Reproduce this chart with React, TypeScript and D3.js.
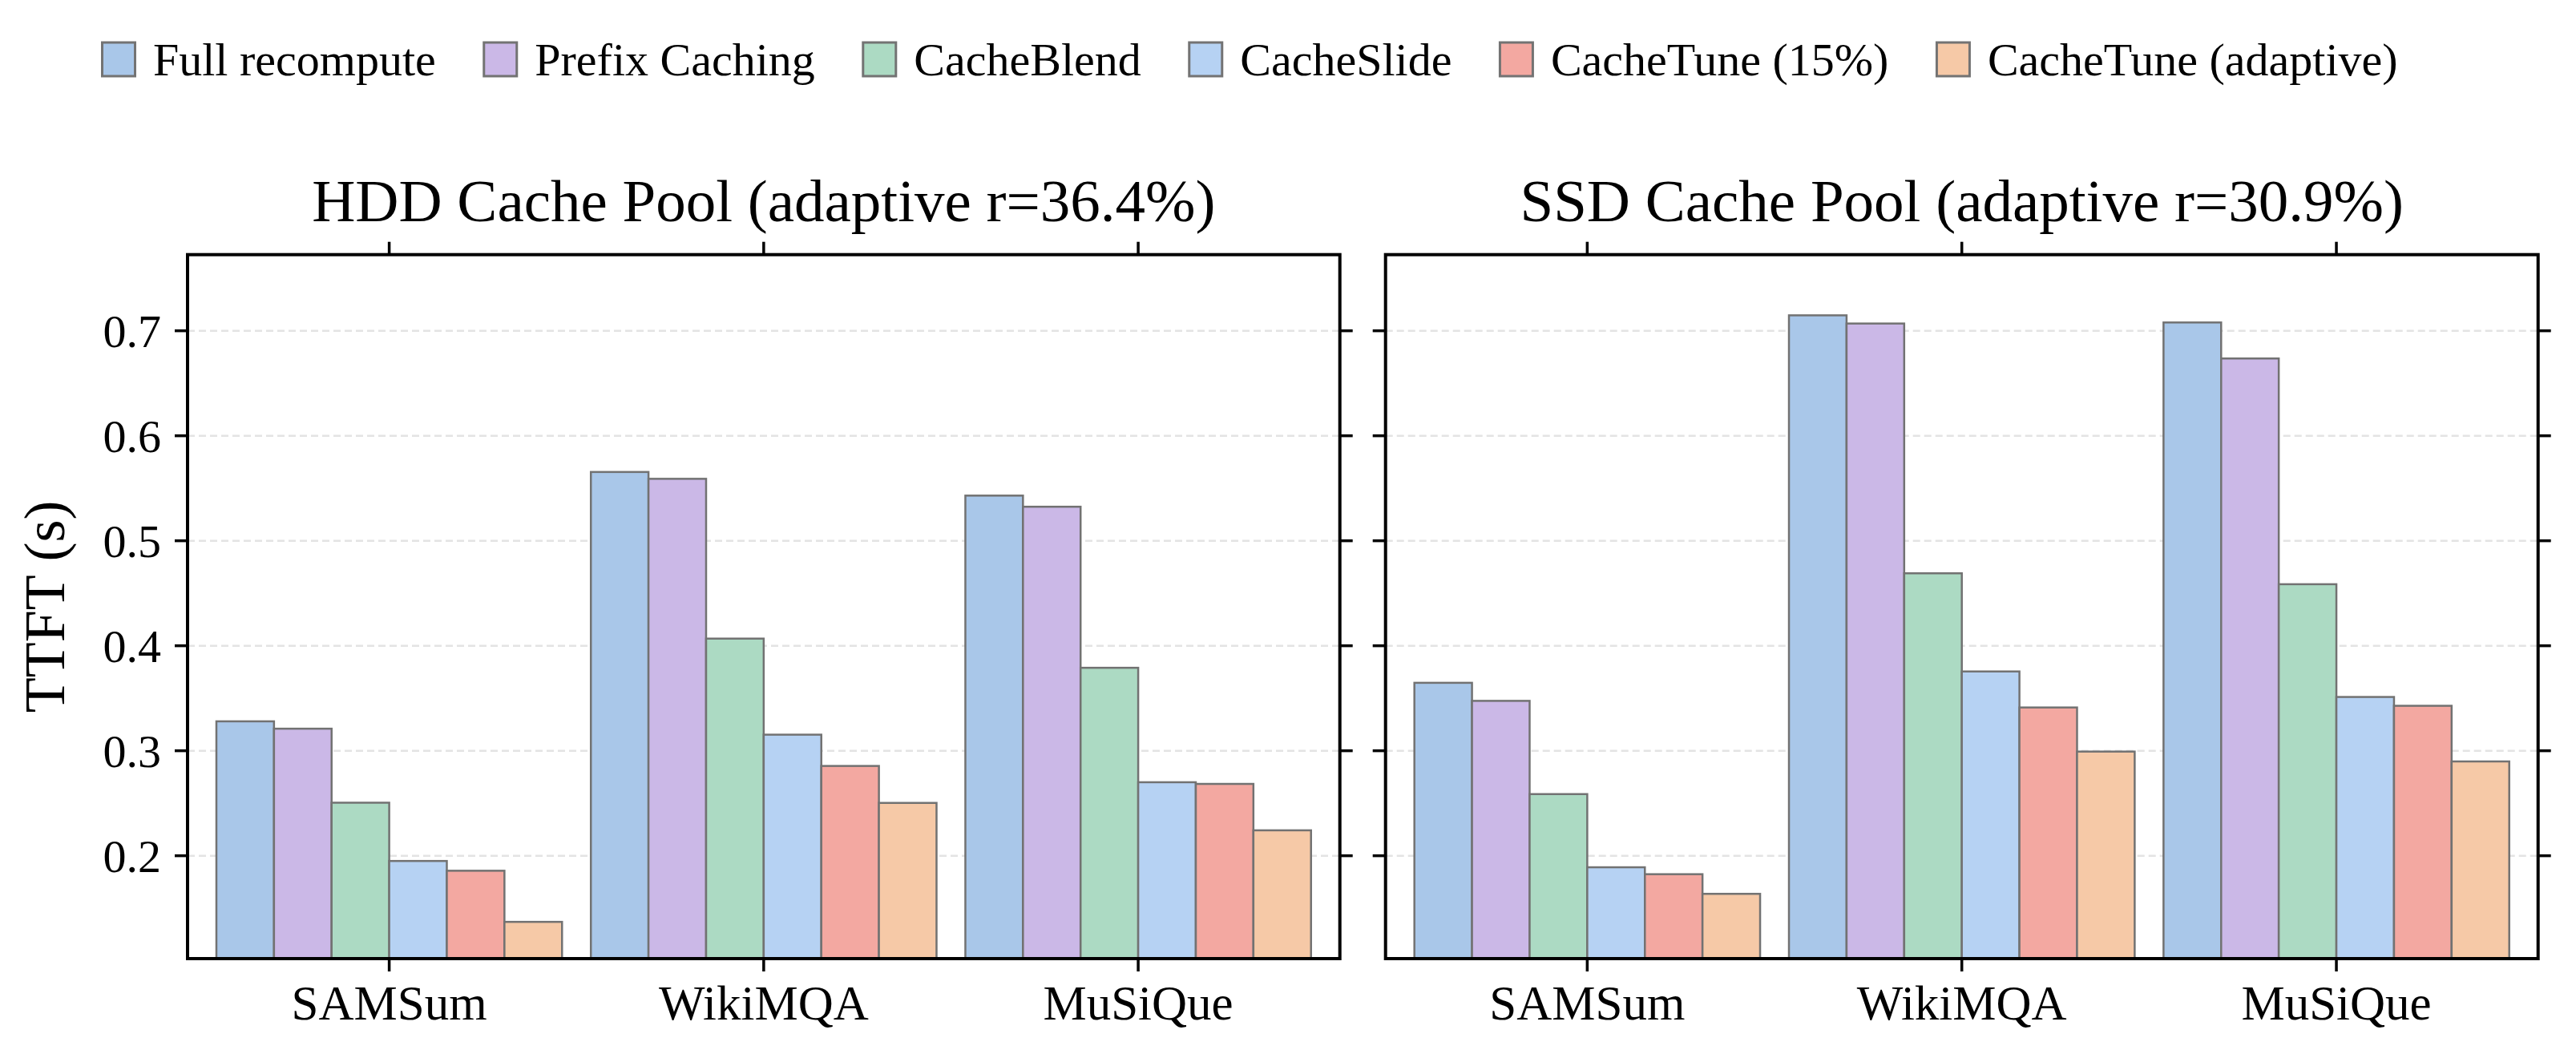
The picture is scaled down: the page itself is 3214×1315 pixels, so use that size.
import { useEffect, useRef } from 'react';
import * as d3 from 'd3';

// Categories and series
const categories = ['SAMSum', 'WikiMQA', 'MuSiQue'];
const methods = [
  'Full recompute',
  'Prefix Caching',
  'CacheBlend',
  'CacheSlide',
  'CacheTune (15%)',
  'CacheTune (adaptive)'
];
const methodColors = ['#a9c7e9', '#cbb8e7', '#acdac3', '#b6d2f3', '#f3a8a1', '#f6c9a7'];

// HDD cache pool TTFT (s), one array per method over categories
const hddFullRecompute = [0.328, 0.5655, 0.543];
const hddPrefixCaching = [0.321, 0.559, 0.5324];
const hddCacheBlend = [0.2505, 0.4068, 0.379];
const hddCacheSlide = [0.195, 0.3153, 0.27];
const hddCacheTune15 = [0.1857, 0.2855, 0.2684];
const hddCacheTuneAdaptive = [0.137, 0.2503, 0.2242];

// SSD cache pool TTFT (s)
const ssdFullRecompute = [0.3647, 0.7147, 0.7079];
const ssdPrefixCaching = [0.3475, 0.7069, 0.6736];
const ssdCacheBlend = [0.2587, 0.469, 0.4586];
const ssdCacheSlide = [0.189, 0.3755, 0.3512];
const ssdCacheTune15 = [0.1824, 0.3412, 0.3428];
const ssdCacheTuneAdaptive = [0.1637, 0.2992, 0.2898];

const yTicks = [0.2, 0.3, 0.4, 0.5, 0.6, 0.7];
const yDomain: [number, number] = [0.102, 0.7725];

const panels = [
  {
    title: 'HDD Cache Pool (adaptive r=36.4%)',
    series: [hddFullRecompute, hddPrefixCaching, hddCacheBlend, hddCacheSlide, hddCacheTune15, hddCacheTuneAdaptive],
    x0: 234,
    x1: 1671.7,
    showYLabels: true
  },
  {
    title: 'SSD Cache Pool (adaptive r=30.9%)',
    series: [ssdFullRecompute, ssdPrefixCaching, ssdCacheBlend, ssdCacheSlide, ssdCacheTune15, ssdCacheTuneAdaptive],
    x0: 1728.7,
    x1: 3166.7,
    showYLabels: false
  }
];

const WIDTH = 3214;
const HEIGHT = 1315;
const FONT = '"Liberation Serif", "Times New Roman", Times, serif';

export default function App() {
  const svgRef = useRef<SVGSVGElement>(null);

  useEffect(() => {
    if (!svgRef.current) return;
    const svg = d3.select(svgRef.current);
    svg.selectAll('*').remove();

    const top = 317.7;
    const bottom = 1196;
    const yScale = d3.scaleLinear().domain(yDomain).range([bottom, top]);

    const tickLen = 16;
    const tickW = 3.5;

    panels.forEach(panel => {
      const g = svg.append('g');
      const xScale = d3.scaleBand<string>()
        .domain(categories)
        .range([panel.x0, panel.x1])
        .paddingInner(0.077)
        .paddingOuter(0.077);
      const inner = d3.scaleBand<string>()
        .domain(methods)
        .range([0, xScale.bandwidth()]);

      // grid
      g.selectAll('line.grid')
        .data(yTicks)
        .join('line')
        .attr('x1', panel.x0)
        .attr('x2', panel.x1)
        .attr('y1', d => yScale(d))
        .attr('y2', d => yScale(d))
        .attr('stroke', '#e3e3e3')
        .attr('stroke-width', 2.5)
        .attr('stroke-dasharray', '9 5');

      // bars
      const clipId = `clip-${panel.x0}`;
      svg.append('defs').append('clipPath').attr('id', clipId)
        .append('rect')
        .attr('x', panel.x0).attr('y', top)
        .attr('width', panel.x1 - panel.x0).attr('height', bottom - top);

      const bars = g.append('g').attr('clip-path', `url(#${clipId})`);
      methods.forEach((m, mi) => {
        bars.selectAll(`rect.m${mi}`)
          .data(panel.series[mi])
          .join('rect')
          .attr('x', (_, ci) => (xScale(categories[ci]) || 0) + (inner(m) || 0))
          .attr('y', d => yScale(d))
          .attr('width', inner.bandwidth())
          .attr('height', d => yScale(yDomain[0]) - yScale(d) + 10)
          .attr('fill', methodColors[mi])
          .attr('stroke', '#727272')
          .attr('stroke-width', 2.5);
      });

      // y ticks on both sides
      [panel.x0, panel.x1].forEach((sx, side) => {
        g.selectAll(`line.yt${side}`)
          .data(yTicks)
          .join('line')
          .attr('x1', side === 0 ? sx - tickLen : sx)
          .attr('x2', side === 0 ? sx : sx + tickLen)
          .attr('y1', d => yScale(d))
          .attr('y2', d => yScale(d))
          .attr('stroke', '#000')
          .attr('stroke-width', tickW);
      });

      // x ticks top and bottom
      g.selectAll('line.xtb')
        .data(categories)
        .join('line')
        .attr('x1', d => (xScale(d) || 0) + xScale.bandwidth() / 2)
        .attr('x2', d => (xScale(d) || 0) + xScale.bandwidth() / 2)
        .attr('y1', bottom)
        .attr('y2', bottom + tickLen)
        .attr('stroke', '#000')
        .attr('stroke-width', tickW);
      g.selectAll('line.xtt')
        .data(categories)
        .join('line')
        .attr('x1', d => (xScale(d) || 0) + xScale.bandwidth() / 2)
        .attr('x2', d => (xScale(d) || 0) + xScale.bandwidth() / 2)
        .attr('y1', top - tickLen)
        .attr('y2', top)
        .attr('stroke', '#000')
        .attr('stroke-width', tickW);

      // frame
      g.append('rect')
        .attr('x', panel.x0)
        .attr('y', top)
        .attr('width', panel.x1 - panel.x0)
        .attr('height', bottom - top)
        .attr('fill', 'none')
        .attr('stroke', '#000')
        .attr('stroke-width', 4);

      // category labels
      g.selectAll('text.cat')
        .data(categories)
        .join('text')
        .attr('x', d => (xScale(d) || 0) + xScale.bandwidth() / 2)
        .attr('y', 1272)
        .attr('text-anchor', 'middle')
        .attr('font-family', FONT)
        .attr('font-size', 61)
        .attr('fill', '#000')
        .text(d => d);

      if (panel.showYLabels) {
        g.selectAll('text.ytl')
          .data(yTicks)
          .join('text')
          .attr('x', panel.x0 - tickLen - 17)
          .attr('y', d => yScale(d))
          .attr('dy', '0.35em')
          .attr('text-anchor', 'end')
          .attr('font-family', FONT)
          .attr('font-size', 58)
          .attr('fill', '#000')
          .text(d => d3.format('.1f')(d));
      }

      // title
      g.append('text')
        .attr('x', (panel.x0 + panel.x1) / 2)
        .attr('y', 276)
        .attr('text-anchor', 'middle')
        .attr('font-family', FONT)
        .attr('font-size', 75)
        .attr('fill', '#000')
        .text(panel.title);
    });

    // y axis label
    svg.append('text')
      .attr('transform', `translate(80, ${(top + bottom) / 2}) rotate(-90)`)
      .attr('text-anchor', 'middle')
      .attr('font-family', FONT)
      .attr('font-size', 72)
      .attr('fill', '#000')
      .text('TTFT (s)');

    // legend, one row
    const legend = svg.append('g');
    let lx = 127.5;
    methods.forEach((m, mi) => {
      legend.append('rect')
        .attr('x', lx)
        .attr('y', 53)
        .attr('width', 41)
        .attr('height', 42)
        .attr('fill', methodColors[mi])
        .attr('stroke', '#737373')
        .attr('stroke-width', 3);
      const t = legend.append('text')
        .attr('x', lx + 63.5)
        .attr('y', 94)
        .attr('font-family', FONT)
        .attr('font-size', 58)
        .attr('fill', '#000')
        .text(m);
      const w = (t.node() as SVGTextElement).getComputedTextLength();
      lx = lx + 63.5 + w + 60;
    });
  }, []);

  return (
    <svg
      ref={svgRef}
      width={WIDTH}
      height={HEIGHT}
      style={{ position: 'absolute', left: 0, top: 0, background: '#fff', display: 'block' }}
    />
  );
}
